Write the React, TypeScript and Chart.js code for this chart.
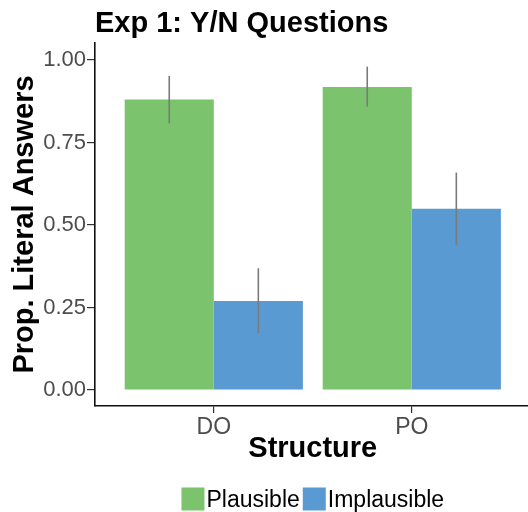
import React, { useEffect, useRef } from 'react';
import { Chart, registerables } from 'chart.js';

Chart.register(...registerables);

const chartTitle = 'Exp 1: Y/N Questions';
const xAxisTitle = 'Structure';
const yAxisTitle = 'Prop. Literal Answers';
const structures = ['DO', 'PO'];
const structurePositions = [1, 2];
const seriesNames = ['Plausible', 'Implausible'];
const plausibleMeans = [0.88, 0.918];
const plausibleLower = [0.808, 0.859];
const plausibleUpper = [0.952, 0.98];
const implausibleMeans = [0.27, 0.549];
const implausibleLower = [0.172, 0.439];
const implausibleUpper = [0.369, 0.659];
const yTickValues = [0, 0.25, 0.5, 0.75, 1];
const seriesColors = ['#7BC46D', '#5A9AD2'];

const FONT = '"Liberation Sans", Arial, Helvetica, sans-serif';

const lowers = [plausibleLower, implausibleLower];
const uppers = [plausibleUpper, implausibleUpper];

const errorBarPlugin = {
  id: 'errorBars',
  afterDatasetsDraw(chart: any) {
    const ctx = chart.ctx;
    const y = chart.scales.y;
    ctx.save();
    ctx.strokeStyle = '#7a7a7a';
    ctx.lineWidth = 1.6;
    chart.data.datasets.forEach((_: any, di: number) => {
      const meta = chart.getDatasetMeta(di);
      meta.data.forEach((bar: any, j: number) => {
        const x = bar.x;
        ctx.beginPath();
        ctx.moveTo(x, y.getPixelForValue(lowers[di][j]));
        ctx.lineTo(x, y.getPixelForValue(uppers[di][j]));
        ctx.stroke();
      });
    });
    ctx.restore();
  },
};

const textPlugin = {
  id: 'ggText',
  afterDraw(chart: any) {
    const ctx = chart.ctx;
    const area = chart.chartArea;
    const xs = chart.scales.x;
    const cx = xs.getPixelForValue(1.5);
    ctx.save();
    ctx.fillStyle = '#000';
    // title
    ctx.font = `bold 29px ${FONT}`;
    ctx.textAlign = 'left';
    ctx.textBaseline = 'alphabetic';
    ctx.fillText(chartTitle, area.left, 32);
    // x title
    ctx.textAlign = 'center';
    ctx.fillText(xAxisTitle, cx, 457);
    // y title
    ctx.save();
    ctx.translate(33, (area.top + area.bottom) / 2);
    ctx.rotate(-Math.PI / 2);
    ctx.fillText(yAxisTitle, 0, 0);
    ctx.restore();
    // legend
    ctx.font = `23px ${FONT}`;
    const box = 23;
    const gapText = 2;
    const gapItem = 3;
    const widths = seriesNames.map((n) => ctx.measureText(n).width);
    const total = widths.reduce((a, w) => a + box + gapText + w, 0) + gapItem * (seriesNames.length - 1);
    let x = cx - total / 2;
    const top = 487.5;
    ctx.textAlign = 'left';
    seriesNames.forEach((n, i) => {
      ctx.fillStyle = seriesColors[i];
      ctx.fillRect(x, top, box, box);
      x += box + gapText;
      ctx.fillStyle = '#000';
      ctx.fillText(n, x, 506.5);
      x += widths[i] + gapItem;
    });
    ctx.restore();
  },
};

export default function App() {
  const ref = useRef<HTMLCanvasElement>(null);
  useEffect(() => {
    if (!ref.current) return;
    const chart = new Chart(ref.current, {
      type: 'bar',
      data: {
        datasets: [
          {
            label: seriesNames[0],
            data: structurePositions.map((x, i) => ({ x, y: plausibleMeans[i] })),
            backgroundColor: seriesColors[0],
            borderWidth: 0,
            categoryPercentage: 0.9,
            barPercentage: 1,
          },
          {
            label: seriesNames[1],
            data: structurePositions.map((x, i) => ({ x, y: implausibleMeans[i] })),
            backgroundColor: seriesColors[1],
            borderWidth: 0,
            categoryPercentage: 0.9,
            barPercentage: 1,
          },
        ],
      },
      options: {
        animation: false,
        responsive: false,
        devicePixelRatio: 1,
        layout: { padding: { top: 43, left: 0, right: 0, bottom: 0 } },
        plugins: {
          legend: { display: false },
          title: { display: false },
          tooltip: { enabled: false },
        },
        scales: {
          x: {
            type: 'linear',
            min: 0.4,
            max: 2.587,
            offset: false,
            afterFit: (s: any) => {
              s.height = 106;
            },
            afterBuildTicks: (s: any) => {
              s.ticks = structurePositions.map((v) => ({ value: v }));
            },
            grid: {
              display: true,
              offset: false,
              drawOnChartArea: false,
              drawTicks: true,
              tickLength: 7,
              color: '#333',
              lineWidth: 1.2,
            },
            border: { display: true, color: '#111', width: 1.6 },
            ticks: {
              autoSkip: false,
              maxRotation: 0,
              padding: 1,
              color: '#4D4D4D',
              font: { family: FONT, size: 23 },
              callback: (v: any) => {
                const i = structurePositions.indexOf(Number(v));
                return i >= 0 ? structures[i] : '';
              },
            },
          },
          y: {
            type: 'linear',
            min: -0.0485,
            max: 1.0515,
            afterFit: (s: any) => {
              s.width = 95;
            },
            afterBuildTicks: (s: any) => {
              s.ticks = yTickValues.map((v) => ({ value: v }));
            },
            grid: {
              display: true,
              drawOnChartArea: false,
              drawTicks: true,
              tickLength: 8,
              color: '#333',
              lineWidth: 1.2,
            },
            border: { display: true, color: '#111', width: 1.6 },
            ticks: {
              padding: 1,
              color: '#4D4D4D',
              font: { family: FONT, size: 22 },
              callback: (v: any) => Number(v).toFixed(2),
            },
          },
        },
      },
      plugins: [errorBarPlugin, textPlugin],
    } as any);
    return () => chart.destroy();
  }, []);
  return (
    <div style={{ position: 'absolute', left: 0, top: 0, width: 528, height: 512, background: '#fff' }}>
      <canvas ref={ref} width={528} height={512} style={{ width: 528, height: 512 }} />
    </div>
  );
}
